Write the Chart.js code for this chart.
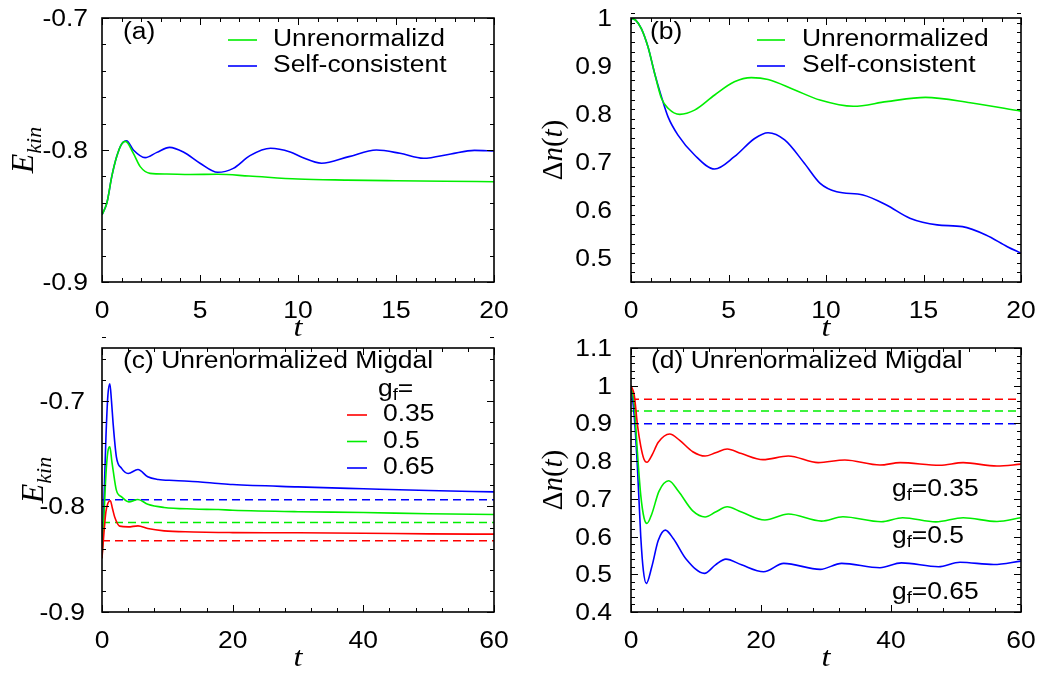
<!DOCTYPE html>
<html>
<head>
<meta charset="utf-8">
<script src="https://cdn.jsdelivr.net/npm/chart.js@4.4.1/dist/chart.umd.min.js"></script>
<style>
  body { margin: 0; background: #fff; width: 1045px; height: 673px; position: relative; overflow: hidden; }
  canvas { position: absolute; }
</style>
</head>
<body>
<canvas id="panelA" width="522" height="345" style="left:0;top:0"></canvas>
<canvas id="panelB" width="525" height="345" style="left:520px;top:0"></canvas>
<canvas id="panelC" width="522" height="343" style="left:0;top:330px"></canvas>
<canvas id="panelD" width="525" height="343" style="left:520px;top:330px"></canvas>
<script>
const BLUE = '#0000ff', GREEN = '#00ee00', RED = '#ff0000';
const SANS = "'Liberation Sans', Arial, sans-serif";
const SERIF = "'Liberation Serif', 'Times New Roman', serif";
const SX = 1.15;   // lettering is a little wide

// (a) kinetic energy, t up to 20
const tA_unren = [0, 0.25, 0.5, 0.75, 1.0, 1.2, 1.6, 1.95, 2.45, 3.3, 4.5, 5.9, 7.5, 10, 12.5, 15, 17.5, 20];
const eA_unren = [-0.849, -0.840, -0.820, -0.805, -0.7955, -0.7935, -0.8025, -0.8126, -0.8177, -0.8182, -0.8186, -0.8184, -0.8197, -0.822, -0.8228, -0.8233, -0.8237, -0.824];
const tA_self = [0, 0.25, 0.5, 0.75, 1.0, 1.25, 1.6, 2.2, 2.8, 3.45, 4.15, 5.0, 5.9, 6.7, 7.55, 8.6, 9.6, 10.2, 11.2, 12.6, 14.0, 15.2, 16.4, 17.8, 19.0, 20];
const eA_self = [-0.849, -0.840, -0.820, -0.805, -0.7955, -0.793, -0.800, -0.8058, -0.8018, -0.798, -0.8015, -0.810, -0.8169, -0.8139, -0.8043, -0.7987, -0.8015, -0.8055, -0.810, -0.805, -0.800, -0.8025, -0.8063, -0.803, -0.8003, -0.8008];
const xTicksA = [0, 5, 10, 15, 20];
const yTicksA = [-0.9, -0.8, -0.7];

// (b) double occupancy change, t up to 20
const tB_unren = [0, 0.25, 0.53, 0.87, 1.21, 1.56, 1.9, 2.5, 3.26, 4.29, 5.3, 6.17, 7.03, 8.4, 9.69, 11.4, 13.1, 15.1, 17.4, 20];
const nB_unren = [1.0, 0.995, 0.978, 0.940, 0.885, 0.8327, 0.812, 0.7993, 0.808, 0.8396, 0.867, 0.8757, 0.872, 0.85, 0.829, 0.816, 0.8257, 0.8347, 0.8236, 0.806];
const tB_self = [0, 0.25, 0.53, 0.87, 1.21, 1.56, 1.9, 2.41, 3.26, 4.29, 5.3, 6.34, 7.03, 7.88, 8.9, 9.7, 10.55, 11.9, 13.1, 14.3, 15.7, 17.0, 18.2, 19.3, 20];
const nB_self = [1.0, 0.995, 0.978, 0.940, 0.885, 0.836, 0.794, 0.756, 0.7146, 0.6854, 0.711, 0.749, 0.761, 0.746, 0.697, 0.6556, 0.638, 0.6313, 0.6104, 0.583, 0.569, 0.5653, 0.548, 0.5236, 0.51];
const xTicksB = [0, 5, 10, 15, 20];
const yTicksB = [0.5, 0.6, 0.7, 0.8, 0.9, 1];

// (c) kinetic energy for three couplings, t up to 60
const gLabels = ['0.35', '0.5', '0.65'];
const tC_035 = [0, 0.3, 0.6, 0.9, 1.28, 1.6, 1.94, 2.7, 4.0, 5.5, 7.0, 9.5, 14, 17.8, 20, 30, 40, 50, 60];
const eC_035 = [-0.849, -0.825, -0.805, -0.797, -0.7947, -0.802, -0.81, -0.8187, -0.8194, -0.8184, -0.821, -0.8232, -0.8242, -0.8247, -0.8248, -0.825, -0.8254, -0.826, -0.8263];
const tC_05 = [0, 0.3, 0.6, 0.9, 1.2, 1.5, 1.7, 2.2, 3.0, 4.1, 5.5, 7.0, 9.5, 14, 17.8, 20, 30, 40, 50, 60];
const eC_05 = [-0.849, -0.81, -0.77, -0.748, -0.7436, -0.757, -0.7656, -0.7846, -0.791, -0.7957, -0.7934, -0.798, -0.801, -0.8025, -0.803, -0.8036, -0.805, -0.8058, -0.807, -0.8077];
const tC_065 = [0, 0.3, 0.6, 0.9, 1.2, 1.45, 1.7, 2.2, 3.0, 4.0, 5.5, 7.0, 8.6, 11, 14.7, 17.8, 20, 30, 40, 50, 60];
const eC_065 = [-0.849, -0.795, -0.735, -0.695, -0.684, -0.700, -0.7214, -0.753, -0.764, -0.7688, -0.765, -0.772, -0.7745, -0.7755, -0.7767, -0.7783, -0.7793, -0.7815, -0.7833, -0.785, -0.7862];
const eC_ref = [-0.8325, -0.8152, -0.7937];
const xTicksC = [0, 20, 40, 60];
const yTicksC = [-0.9, -0.8, -0.7];

// (d) double occupancy change for three couplings
const tD_035 = [0, 0.5, 1.0, 1.5, 2.0, 2.46, 3.2, 4.2, 5.95, 7.5, 9.5, 11.4, 13, 14.8, 17, 20.3, 24.2, 28.8, 32.9, 38.3, 41.4, 47.5, 51.1, 56.3, 60];
const nD_035 = [1.0, 0.975, 0.895, 0.84, 0.805, 0.797, 0.815, 0.85, 0.872, 0.855, 0.825, 0.8135, 0.822, 0.832, 0.82, 0.804, 0.8135, 0.796, 0.803, 0.7897, 0.796, 0.789, 0.796, 0.787, 0.792];
const tD_05 = [0, 0.5, 1.0, 1.5, 2.0, 2.46, 3.2, 4.3, 5.8, 7.3, 9.5, 11.4, 13, 14.8, 17, 20.6, 24.2, 29.3, 32.6, 38.5, 41.8, 46.9, 51.1, 56.3, 60];
const nD_05 = [1.0, 0.95, 0.82, 0.71, 0.65, 0.635, 0.66, 0.72, 0.748, 0.72, 0.668, 0.652, 0.665, 0.679, 0.665, 0.6438, 0.6597, 0.641, 0.6526, 0.6393, 0.65, 0.639, 0.65, 0.64, 0.65];
const tD_065 = [0, 0.5, 1.0, 1.5, 1.9, 2.36, 3.2, 4.2, 5.28, 6.5, 8.5, 11.3, 13, 14.6, 17, 20.4, 23.5, 29.1, 32.4, 38.3, 41.6, 47.3, 50.6, 55.8, 60];
const nD_065 = [1.0, 0.92, 0.78, 0.60, 0.51, 0.4758, 0.52, 0.59, 0.617, 0.595, 0.54, 0.5025, 0.525, 0.5403, 0.525, 0.5067, 0.529, 0.513, 0.529, 0.5173, 0.5303, 0.52, 0.532, 0.526, 0.535];
const nD_ref = [0.964, 0.933, 0.899];
const xTicksD = [0, 20, 40, 60];
const yTicksD = [0.4, 0.5, 0.6, 0.7, 0.8, 0.9, 1, 1.1];

const pts = (ts, vs) => ts.map((t, i) => ({ x: t, y: vs[i] }));
const fmt = v => String(+(+v).toFixed(2));
const sans = s => `${s}px ${SANS}`;
const serifI = s => `italic ${s}px ${SERIF}`;
const serif = s => `${s}px ${SERIF}`;

function curve(label, ts, vs, color) {
  return { label, data: pts(ts, vs), borderColor: color, borderWidth: 1.6, pointRadius: 0,
           cubicInterpolationMode: 'monotone', fill: false };
}
function level(v, tmax, color) {
  return { label: '', data: pts([0, tmax], [v, v]), borderColor: color, borderWidth: 1.5,
           borderDash: [8, 5], pointRadius: 0, fill: false };
}

// draws a run of differently styled pieces, left to right, stretched by sx
function rich(ctx, parts, x, y, align, sx = SX) {
  let w = 0;
  parts.forEach(p => { ctx.font = p.font; w += ctx.measureText(p.t).width; });
  let cx = align === 'center' ? -w / 2 : align === 'right' ? -w : 0;
  ctx.save();
  ctx.translate(x, y);
  ctx.scale(sx, 1);
  ctx.textAlign = 'left';
  parts.forEach(p => {
    ctx.font = p.font;
    ctx.fillText(p.t, cx, p.dy || 0);
    cx += ctx.measureText(p.t).width;
  });
  ctx.restore();
}
const plain = (ctx, t, x, y, align) => rich(ctx, [{ t, font: sans(23) }], x, y, align);

function rotated(ctx, parts, x, y) {
  ctx.save();
  ctx.translate(x, y);
  ctx.rotate(-Math.PI / 2);
  ctx.textBaseline = 'alphabetic';
  rich(ctx, parts, 0, 0, 'center', 1);
  ctx.restore();
}

// box with inward ticks on all four sides, gnuplot style, plus the tick numbers
Chart.register({
  id: 'frame',
  defaults: { minorX: 1, minorY: 0.02, yGap: 16 },
  afterDatasetsDraw(chart, args, o) {
    const { ctx, chartArea: a, scales: { x, y } } = chart;
    ctx.save();
    ctx.strokeStyle = '#000';
    ctx.lineWidth = 1;
    const isMajor = (scale, v) => scale.ticks.some(t => Math.abs(t.value - v) < 1e-6);
    let n = Math.round((x.max - x.min) / o.minorX);
    for (let i = 0; i <= n; i++) {
      const v = x.min + i * o.minorX, px = Math.round(x.getPixelForValue(v)) + 0.5;
      const len = isMajor(x, v) ? 7 : 4;
      ctx.beginPath();
      ctx.moveTo(px, a.bottom); ctx.lineTo(px, a.bottom - len);
      ctx.moveTo(px, a.top); ctx.lineTo(px, a.top + len);
      ctx.stroke();
    }
    n = Math.round((y.max - y.min) / o.minorY);
    for (let i = 0; i <= n; i++) {
      const v = y.min + i * o.minorY, py = Math.round(y.getPixelForValue(v)) + 0.5;
      const len = isMajor(y, v) ? 7 : 4;
      ctx.beginPath();
      ctx.moveTo(a.left, py); ctx.lineTo(a.left + len, py);
      ctx.moveTo(a.right, py); ctx.lineTo(a.right - len, py);
      ctx.stroke();
    }
    ctx.lineWidth = 1.6;
    ctx.strokeRect(a.left, a.top, a.width, a.height);

    ctx.fillStyle = '#000';
    ctx.textBaseline = 'alphabetic';
    x.ticks.forEach(t => plain(ctx, fmt(t.value), x.getPixelForValue(t.value), a.bottom + 36, 'center'));
    y.ticks.forEach(t => plain(ctx, fmt(t.value), a.left - o.yGap, y.getPixelForValue(t.value) + 8, 'right'));
    ctx.restore();
  }
});

const ekin = [{ t: 'E', font: serifI(32) }, { t: 'kin', font: serifI(22), dy: 8 }];
const dn = [{ t: '\u0394', font: serif(29) }, { t: 'n', font: serifI(29) }, { t: '(', font: serif(29) },
            { t: 't', font: serifI(29) }, { t: ')', font: serif(29) }];
const gf = rest => [{ t: 'g', font: sans(23) }, { t: 'f', font: sans(16), dy: 6 }, { t: rest, font: sans(23) }];

function axisText(chart, yTitle, yTitleOffset) {
  const { ctx, chartArea: a } = chart;
  ctx.fillStyle = '#000';
  ctx.textBaseline = 'alphabetic';
  rich(ctx, [{ t: 't', font: serifI(28) }], (a.left + a.right) / 2, a.bottom + 54, 'center');
  rotated(ctx, yTitle, a.left - yTitleOffset, (a.top + a.bottom) / 2);
}
function legendLine(ctx, x0, x1, y, color) {
  ctx.save();
  ctx.strokeStyle = color; ctx.lineWidth = 1.6;
  ctx.beginPath(); ctx.moveTo(x0, y); ctx.lineTo(x1, y); ctx.stroke();
  ctx.restore();
}

function makeChart(id, cfg) {
  return new Chart(document.getElementById(id), {
    type: 'line',
    data: { datasets: cfg.datasets },
    options: {
      responsive: false, animation: false, devicePixelRatio: 1,
      layout: { padding: { left: 0, right: cfg.padRight, top: 18, bottom: 0 } },
      plugins: { legend: { display: false }, tooltip: { enabled: false },
                 frame: { minorX: cfg.minorX, minorY: 0.02, yGap: cfg.yGap } },
      scales: {
        x: {
          type: 'linear', min: cfg.xMin, max: cfg.xMax,
          grid: { display: false, drawTicks: false }, border: { display: false },
          ticks: { display: false },
          afterBuildTicks: s => { s.ticks = cfg.xTicks.map(value => ({ value })); },
          afterFit: s => { s.height = cfg.xHeight; }
        },
        y: {
          type: 'linear', min: cfg.yMin, max: cfg.yMax,
          grid: { display: false, drawTicks: false }, border: { display: false },
          ticks: { display: false },
          afterBuildTicks: s => { s.ticks = cfg.yTicks.map(value => ({ value })); },
          afterFit: s => { s.width = cfg.yWidth; }
        }
      }
    },
    plugins: [{ id: id + 'Text', afterDraw: cfg.text }]
  });
}

makeChart('panelA', {
  datasets: [curve('Unrenormalizd', tA_unren, eA_unren, GREEN), curve('Self-consistent', tA_self, eA_self, BLUE)],
  xMin: 0, xMax: 20, yMin: -0.9, yMax: -0.7, xTicks: xTicksA, yTicks: yTicksA, minorX: 1,
  yWidth: 102, padRight: 28, xHeight: 63, yGap: 14,
  text(chart) {
    const { ctx, chartArea: a } = chart;
    axisText(chart, ekin, 69);
    ctx.textBaseline = 'middle';
    plain(ctx, '(a)', a.left + 21, a.top + 15);
    chart.data.datasets.forEach((d, i) => {
      const y = a.top + 22 + i * 26;
      legendLine(ctx, a.left + 126, a.left + 155, y, d.borderColor);
      plain(ctx, d.label, a.left + 171, y);
    });
  }
});

makeChart('panelB', {
  datasets: [curve('Unrenormalized', tB_unren, nB_unren, GREEN), curve('Self-consistent', tB_self, nB_self, BLUE)],
  xMin: 0, xMax: 20, yMin: 0.45, yMax: 1, xTicks: xTicksB, yTicks: yTicksB, minorX: 1,
  yWidth: 111, padRight: 24, xHeight: 63, yGap: 19,
  text(chart) {
    const { ctx, chartArea: a } = chart;
    axisText(chart, dn, 69);
    ctx.textBaseline = 'middle';
    plain(ctx, '(b)', a.left + 19, a.top + 15);
    chart.data.datasets.forEach((d, i) => {
      const y = a.top + 22 + i * 26;
      legendLine(ctx, a.left + 126, a.left + 154, y, d.borderColor);
      plain(ctx, d.label, a.left + 171, y);
    });
  }
});

makeChart('panelC', {
  datasets: [
    curve(gLabels[0], tC_035, eC_035, RED), curve(gLabels[1], tC_05, eC_05, GREEN), curve(gLabels[2], tC_065, eC_065, BLUE),
    level(eC_ref[0], 60, RED), level(eC_ref[1], 60, GREEN), level(eC_ref[2], 60, BLUE)
  ],
  xMin: 0, xMax: 60, yMin: -0.9, yMax: -0.65, xTicks: xTicksC, yTicks: yTicksC, minorX: 4,
  yWidth: 102, padRight: 28, xHeight: 61, yGap: 17,
  text(chart) {
    const { ctx, chartArea: a } = chart;
    axisText(chart, ekin, 59);
    ctx.textBaseline = 'middle';
    plain(ctx, '(c) Unrenormalized Migdal', a.left + 21, a.top + 14);
    rich(ctx, gf('='), a.left + 276, a.top + 42);
    chart.data.datasets.slice(0, 3).forEach((d, i) => {
      const y = a.top + 67 + i * 26.5;
      legendLine(ctx, a.left + 245, a.left + 265, y, d.borderColor);
      plain(ctx, d.label, a.left + 281, y);
    });
  }
});

makeChart('panelD', {
  datasets: [
    curve(gLabels[0], tD_035, nD_035, RED), curve(gLabels[1], tD_05, nD_05, GREEN), curve(gLabels[2], tD_065, nD_065, BLUE),
    level(nD_ref[0], 60, RED), level(nD_ref[1], 60, GREEN), level(nD_ref[2], 60, BLUE)
  ],
  xMin: 0, xMax: 60, yMin: 0.4, yMax: 1.1, xTicks: xTicksD, yTicks: yTicksD, minorX: 4,
  yWidth: 111, padRight: 24, xHeight: 61, yGap: 19,
  text(chart) {
    const { ctx, chartArea: a } = chart;
    axisText(chart, dn, 69);
    ctx.textBaseline = 'middle';
    plain(ctx, '(d) Unrenormalized Migdal', a.left + 20, a.top + 14);
    [142, 189, 245].forEach((dy, i) => rich(ctx, gf('=' + gLabels[i]), a.left + 261, a.top + dy));
  }
});
</script>
</body>
</html>
